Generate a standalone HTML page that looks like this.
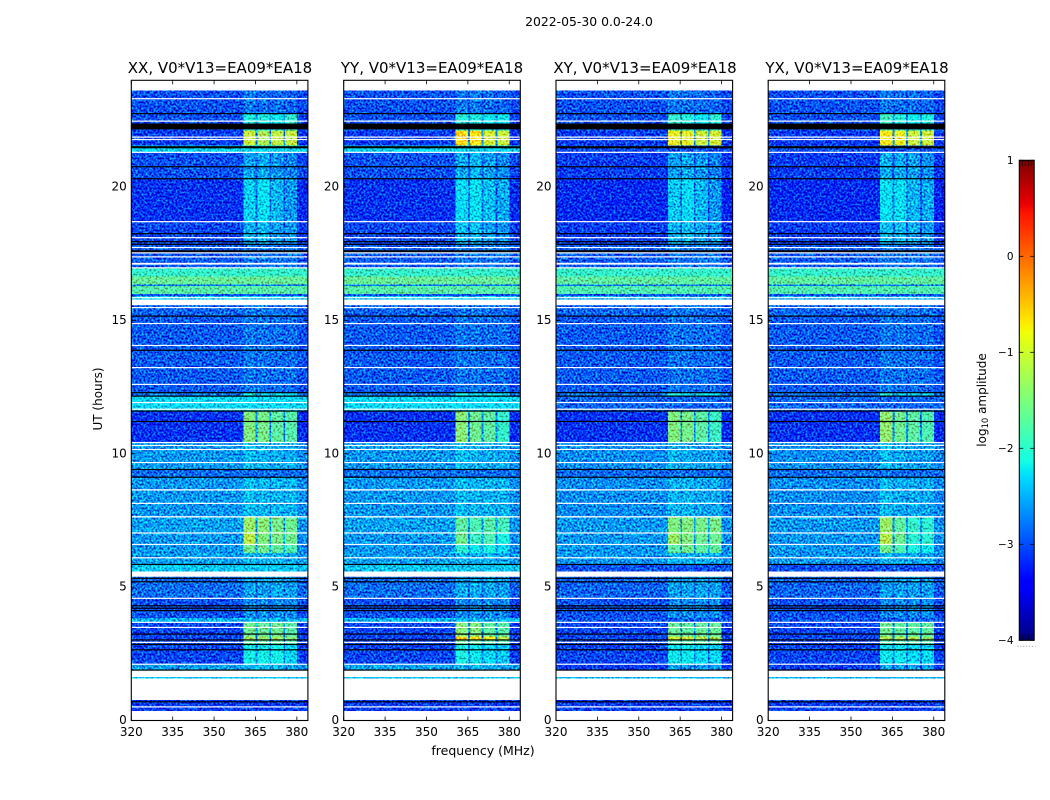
<!DOCTYPE html>
<html lang="en">
<head>
<meta charset="utf-8">
<title>2022-05-30 0.0-24.0</title>
<style>
html,body{margin:0;padding:0;background:#fff;}
svg{display:block;font-family:"DejaVu Sans","Liberation Sans",sans-serif;}
</style>
</head>
<body>
<svg id="figure" xmlns="http://www.w3.org/2000/svg" width="1050" height="800" viewBox="0 0 1050 800">
<defs>
<filter id="grain" filterUnits="userSpaceOnUse" x="120" y="70" width="840" height="660" color-interpolation-filters="sRGB">
<feTurbulence type="fractalNoise" baseFrequency="0.5" numOctaves="2" seed="7" result="n"/>
<feColorMatrix in="n" type="matrix" values="0.3 0 0 0 0.35  2.2 0 0 0 -0.6  1.4 0 0 0 -0.2  0 0 0 0 1" result="m"/>
<feComposite in="SourceGraphic" in2="m" operator="arithmetic" k1="0" k2="1" k3="0.85" k4="-0.425" result="mixed"/>
<feComposite in="mixed" in2="SourceAlpha" operator="in"/>
</filter>
</defs>
<rect x="0" y="0" width="1050" height="800" fill="#fff"/>
<text x="589" y="26" font-size="12.4" text-anchor="middle">2022-05-30 0.0-24.0</text>
<g id="panels"></g>
<text x="220" y="73" font-size="15" text-anchor="middle">XX, V0*V13=EA09*EA18</text>
<text x="432" y="73" font-size="15" text-anchor="middle">YY, V0*V13=EA09*EA18</text>
<text x="645" y="73" font-size="15" text-anchor="middle">XY, V0*V13=EA09*EA18</text>
<text x="857" y="73" font-size="15" text-anchor="middle">YX, V0*V13=EA09*EA18</text>
<text x="0" y="0" font-size="12" text-anchor="middle" transform="translate(102 399) rotate(-90)">UT (hours)</text>
<text x="483" y="755" font-size="12.5" text-anchor="middle">frequency (MHz)</text>
<g id="colorbar"></g>
<text x="0" y="0" font-size="12" text-anchor="middle" transform="translate(986 400) rotate(-90)">log<tspan font-size="8.4" dy="2">10</tspan><tspan dy="-2"> amplitude</tspan></text>
</svg>
<script>
// ---- axis labels ----
const freqTicks = [320, 335, 350, 365, 380];
const hourTicks = [0, 5, 10, 15, 20];
const levelTicks = [1, 0, -1, -2, -3, -4];
const levelMinorTicks = [0.2, 0.4, 0.6, 0.8];

// ---- time bands (UT hours) ----
const bandStart = [23.62,22.76,22.12,21.56,21.30,20.31,18.70,17.82,16.97,16.65,16.35,16.29,15.98,15.92,15.57,15.16,12.30,12.16,11.60,10.42,9.41,9.12,7.64,7.03,6.60,6.28,5.85,5.39,4.58,3.84,3.68,3.14,3.02,2.85,2.11,1.64,0.77];
const bandEnd   = [22.76,22.12,21.56,21.30,20.31,18.70,17.82,16.97,16.65,16.35,16.29,15.98,15.92,15.57,15.16,12.30,12.16,11.60,10.42,9.41,9.12,7.64,7.03,6.60,6.28,5.85,5.58,4.58,3.84,3.68,3.14,3.02,2.85,2.11,1.89,1.57,0.36];

// ---- background log10 amplitude per band ----
const backgroundParallel = [-3.0,-3.0,-3.1,-2.3,-3.0,-3.15,-3.05,-2.95,-1.95,-1.65,-2.8,-1.75,-3.0,-2.4,-2.9,-2.95,-2.8,-2.3,-3.15,-2.65,-2.85,-2.65,-2.6,-2.65,-2.65,-2.6,-2.4,-2.85,-3.0,-2.5,-3.05,-3.05,-3.05,-3.05,-2.6,-2.4,-3.1];
const backgroundCross    = [-3.0,-3.0,-3.1,-3.0,-3.1,-3.2,-3.1,-2.95,-1.95,-1.7,-2.8,-1.8,-3.0,-2.55,-2.9,-2.95,-2.8,-2.9,-3.15,-2.7,-2.85,-2.7,-2.65,-2.65,-2.65,-2.65,-3.0,-2.9,-3.0,-2.95,-3.05,-3.05,-3.05,-3.05,-3.1,-2.5,-3.1];

// ---- interference blocks: log10 amplitude in four sub-bands, per band, per correlation ----
const rfiXX = [[-2.8,-2.85,-2.85,-2.9],[-2.1,-2.1,-2.2,-2.0],[-1.05,-1.25,-1.1,-1.1],null,[-2.6,-2.55,-2.65,-2.75],[-2.35,-2.25,-2.5,-2.65],[-2.5,-2.45,-2.6,-2.65],[-2.8,-2.8,-2.8,-2.8],null,null,null,null,null,null,[-2.8,-2.8,-2.85,-2.85],[-2.8,-2.82,-2.85,-2.85],[-2.1,-2.3,-2.2,-2.3],null,[-1.5,-1.55,-1.7,-1.75],[-2.45,-2.5,-2.55,-2.55],null,[-2.45,-2.5,-2.5,-2.5],[-1.35,-1.45,-1.55,-1.6],[-1.15,-1.5,-1.55,-1.6],[-1.6,-1.6,-1.7,-1.8],[-2.5,-2.5,-2.5,-2.55],null,[-2.6,-2.6,-2.55,-2.6],[-2.7,-2.7,-2.7,-2.7],null,[-1.6,-1.65,-1.6,-1.75],[-1.3,-1.35,-1.3,-1.45],[-1.7,-1.7,-1.7,-1.8],[-2.15,-2.15,-2.15,-2.3],[-2.5,-2.5,-2.5,-2.6],null,null];
const rfiYY = [[-2.8,-2.8,-2.85,-2.9],[-2.05,-2.1,-2.2,-2.2],[-0.6,-0.7,-1.0,-1.05],null,[-2.55,-2.5,-2.6,-2.7],[-2.3,-2.25,-2.45,-2.55],[-2.45,-2.45,-2.6,-2.65],[-2.8,-2.8,-2.8,-2.8],null,null,null,null,null,null,[-2.8,-2.8,-2.85,-2.85],[-2.8,-2.82,-2.85,-2.85],[-2.1,-2.3,-2.2,-2.3],null,[-1.45,-1.6,-1.7,-1.95],[-2.45,-2.5,-2.55,-2.55],null,[-2.45,-2.5,-2.5,-2.5],[-1.7,-1.8,-1.75,-1.85],[-1.6,-1.9,-1.8,-2.1],[-2.0,-2.2,-2.1,-2.3],[-2.5,-2.5,-2.5,-2.55],null,[-2.55,-2.55,-2.55,-2.6],[-2.7,-2.7,-2.7,-2.7],null,[-1.45,-1.5,-1.7,-1.75],[-0.55,-0.7,-0.75,-1.1],[-1.65,-1.7,-1.75,-1.8],[-2.1,-2.2,-2.3,-2.4],[-2.5,-2.5,-2.5,-2.6],null,null];
const rfiXY = [[-2.8,-2.85,-2.85,-2.9],[-1.95,-2.05,-2.2,-2.0],[-0.85,-0.9,-1.05,-1.0],null,[-2.6,-2.55,-2.65,-2.75],[-2.4,-2.3,-2.5,-2.65],[-2.5,-2.45,-2.55,-2.6],[-2.8,-2.8,-2.8,-2.8],null,null,null,null,null,null,[-2.8,-2.8,-2.85,-2.85],[-2.82,-2.82,-2.85,-2.85],[-2.1,-2.3,-2.2,-2.3],null,[-1.5,-1.55,-1.7,-1.9],[-2.5,-2.55,-2.6,-2.6],null,[-2.5,-2.5,-2.55,-2.55],[-1.5,-1.5,-1.55,-1.55],[-1.35,-1.5,-1.6,-1.6],[-1.7,-1.6,-1.7,-1.7],[-2.5,-2.5,-2.5,-2.55],null,[-2.6,-2.6,-2.55,-2.6],[-2.7,-2.7,-2.7,-2.7],null,[-1.65,-1.7,-1.65,-1.65],[-1.0,-1.0,-1.2,-1.3],[-1.75,-1.75,-1.7,-1.7],[-2.2,-2.2,-2.3,-2.3],[-2.6,-2.6,-2.6,-2.6],null,null];
const rfiYX = [[-2.8,-2.85,-2.85,-2.9],[-1.9,-2.05,-2.2,-2.1],[-0.75,-0.85,-1.05,-1.05],null,[-2.55,-2.55,-2.6,-2.7],[-2.25,-2.25,-2.5,-2.55],[-2.45,-2.45,-2.55,-2.65],[-2.8,-2.8,-2.8,-2.8],null,null,null,null,null,null,[-2.8,-2.8,-2.85,-2.85],[-2.8,-2.82,-2.85,-2.85],[-2.05,-2.3,-2.25,-2.3],null,[-1.4,-1.6,-1.7,-1.8],[-2.45,-2.55,-2.6,-2.6],null,[-2.45,-2.55,-2.55,-2.55],[-1.35,-1.7,-1.95,-2.0],[-1.2,-1.6,-2.0,-2.0],[-1.6,-1.8,-2.1,-2.2],[-2.45,-2.55,-2.55,-2.55],null,[-2.6,-2.6,-2.6,-2.6],[-2.75,-2.7,-2.7,-2.7],null,[-1.6,-1.7,-1.7,-1.7],[-1.2,-1.2,-1.2,-1.4],[-1.75,-1.75,-1.75,-1.75],[-2.2,-2.2,-2.3,-2.3],[-2.6,-2.6,-2.6,-2.6],null,null];

// ---- sub-band limits in MHz ----
const blockLow  = [360.6, 365.7, 370.6, 375.7];
const blockHigh = [365.1, 370.0, 375.1, 380.0];

// ---- flagged integrations (UT hours) ----
const whiteLines = [23.31,22.47,21.87,21.78,21.30,18.70,18.10,17.73,17.53,17.38,16.97,15.85,15.48,14.88,14.06,13.23,12.60,11.92,11.67,10.42,10.31,10.16,9.67,8.14,7.03,6.60,6.10,4.58,3.68,3.49,2.93,2.11,0.51];
const blackLines = [22.75,20.76,20.31,18.25,17.95,17.85,15.16,13.88,12.29,12.16,11.60,11.21,9.41,9.12,5.85,5.33,5.20,4.30,4.21,4.12,3.24,3.02,2.85,2.65,1.89,0.70];
const whiteGapStart = [17.16,15.78,8.67,7.66,5.55];
const whiteGapEnd   = [17.09,15.57,8.62,7.61,5.39];
const blackGapStart = [22.38,21.53,17.63];
const blackGapEnd   = [22.16,21.45,17.55];

const panelLeft = [131.3, 343.7, 556.0, 768.2];
const panelWidth = 176.6, plotTop = 80.3, plotBottom = 720.5;
const freqMin = 320, freqMax = 384, hourMin = 0, hourMax = 24;
const NS = 'http://www.w3.org/2000/svg';

function xScale(f, left) { return left + (f - freqMin) / (freqMax - freqMin) * panelWidth; }
function yScale(h) { return plotBottom - (h - hourMin) / (hourMax - hourMin) * (plotBottom - plotTop); }
function lerp(pts, v) {
  for (let i = 1; i < pts.length; i++) {
    if (v <= pts[i][0]) {
      const a = pts[i - 1], b = pts[i];
      return a[1] + (b[1] - a[1]) * (v - a[0]) / (b[0] - a[0]);
    }
  }
  return pts[pts.length - 1][1];
}
function jet(level) {
  const v = Math.max(0, Math.min(1, (level + 4) / 5));
  const r = lerp([[0,0],[0.35,0],[0.66,1],[0.89,1],[1,0.5]], v);
  const g = lerp([[0,0],[0.125,0],[0.375,1],[0.64,1],[0.91,0],[1,0]], v);
  const b = lerp([[0,0.5],[0.11,1],[0.34,1],[0.65,0],[1,0]], v);
  return 'rgb(' + Math.round(r * 255) + ',' + Math.round(g * 255) + ',' + Math.round(b * 255) + ')';
}
function make(parent, tag, attrs, text) {
  const el = document.createElementNS(NS, tag);
  for (const k in attrs) el.setAttribute(k, attrs[k]);
  if (text !== undefined) el.textContent = text;
  parent.appendChild(el);
  return el;
}
function cell(parent, f0, f1, hLow, hHigh, level, left) {
  const x0 = xScale(f0, left), x1 = xScale(f1, left);
  const yTop = yScale(hHigh), yBottom = yScale(hLow);
  const el = make(parent, 'rect', {x: x0, y: yTop, width: x1 - x0, height: yBottom - yTop, fill: jet(level), 'shape-rendering': 'crispEdges'});
  
  
}

function drawPanel(idx, rfi, background) {
  const left = panelLeft[idx];
  const root = document.getElementById('panels');
  const panel = make(root, 'g', {});
  
  
  const heat = make(panel, 'g', {filter: 'url(#grain)'});
  
  

  bandStart.forEach(function (hHigh, b) {
    const hLow = bandEnd[b], bg = background[b], blocks = rfi[b];
    if (!blocks) {
      cell(heat, freqMin, freqMax, hLow, hHigh, bg, left);
      return;
    }
    cell(heat, freqMin, blockLow[0], hLow, hHigh, bg, left);
    blocks.forEach(function (level, k) {
      cell(heat, blockLow[k], blockHigh[k], hLow, hHigh, level, left);
      const gapEnd = k < blocks.length - 1 ? blockLow[k + 1] : freqMax;
      const gapLevel = k < blocks.length - 1 ? Math.max(bg, Math.min(level, -2.2) - 0.5) : bg - 0.05;
      cell(heat, blockHigh[k], gapEnd, hLow, hHigh, gapLevel, left);
    });
  });

  const x0 = xScale(freqMin, left), x1 = xScale(freqMax, left);
  whiteGapStart.forEach(function (hHigh, i) {
    const el = make(panel, 'rect', {x: x0, y: yScale(hHigh), width: x1 - x0, height: yScale(whiteGapEnd[i]) - yScale(hHigh), fill: '#fff'});
    
    
  });
  blackGapStart.forEach(function (hHigh, i) {
    const el = make(panel, 'rect', {x: x0, y: yScale(hHigh), width: x1 - x0, height: yScale(blackGapEnd[i]) - yScale(hHigh), fill: '#000'});
    
    
  });
  blackLines.forEach(function (h) {
    const el = make(panel, 'rect', {x: x0, y: yScale(h) - 0.6, width: x1 - x0, height: 1.2, fill: '#000'});
    
    
  });
  whiteLines.forEach(function (h) {
    const el = make(panel, 'rect', {x: x0, y: yScale(h) - 0.6, width: x1 - x0, height: 1.2, fill: '#fff'});
    
    
  });

  freqTicks.forEach(function (f) {
    const x = xScale(f, left);
    const t1 = make(panel, 'line', {x1: x, x2: x, y1: plotBottom, y2: plotBottom - 4, stroke: '#000', 'stroke-width': 0.8});
    
    
    const t2 = make(panel, 'line', {x1: x, x2: x, y1: plotTop, y2: plotTop + 4, stroke: '#000', 'stroke-width': 0.8});
    
    
    const lab = make(panel, 'text', {x: x, y: 736, 'font-size': 12, 'text-anchor': 'middle'}, String(f));
    
    
  });
  hourTicks.forEach(function (h) {
    const y = yScale(h);
    const t1 = make(panel, 'line', {x1: x0, x2: x0 + 4, y1: y, y2: y, stroke: '#000', 'stroke-width': 0.8});
    
    
    const t2 = make(panel, 'line', {x1: x1, x2: x1 - 4, y1: y, y2: y, stroke: '#000', 'stroke-width': 0.8});
    
    
    const lab = make(panel, 'text', {x: x0 - 4.5, y: y + 3.5, 'font-size': 12, 'text-anchor': 'end'}, String(h));
    
    
  });
  const frame = make(panel, 'rect', {x: x0, y: plotTop, width: x1 - x0, height: plotBottom - plotTop, fill: 'none', stroke: '#000', 'stroke-width': 1.1});
  
  
}

drawPanel(0, rfiXX, backgroundParallel);
drawPanel(1, rfiYY, backgroundParallel);
drawPanel(2, rfiXY, backgroundCross);
drawPanel(3, rfiYX, backgroundCross);

// ---- colorbar ----
const cbLeft = 1019.3, cbRight = 1034.2, cbTop = 160.3, cbBottom = 640.3, cbMin = -4, cbMax = 1;
function cbY(level) { return cbBottom - (level - cbMin) / (cbMax - cbMin) * (cbBottom - cbTop); }
(function () {
  const root = document.getElementById('colorbar');
  for (let p = Math.round(cbTop); p < Math.round(cbBottom); p++) {
    const level = cbMax - (p + 0.5 - cbTop) / (cbBottom - cbTop) * (cbMax - cbMin);
    const s = make(root, 'rect', {x: cbLeft, y: p, width: cbRight - cbLeft, height: 1.2, fill: jet(level), 'shape-rendering': 'crispEdges'});
    
    
  }
  levelTicks.forEach(function (v) {
    const y = cbY(v);
    const t1 = make(root, 'line', {x1: cbLeft, x2: cbLeft + 4, y1: y, y2: y, stroke: '#000', 'stroke-width': 0.8});
    
    
    const t2 = make(root, 'line', {x1: cbRight, x2: cbRight - 4, y1: y, y2: y, stroke: '#000', 'stroke-width': 0.8});
    
    
    const lab = make(root, 'text', {x: 1013.5, y: y + 3.8, 'font-size': 10.5, 'text-anchor': 'end', fill: '#000'}, v < 0 ? '\u2212' + Math.abs(v) : String(v));
    
    
  });
  levelMinorTicks.forEach(function (frac) {
    const x = cbLeft + frac * (cbRight - cbLeft);
    const a = make(root, 'line', {x1: x, x2: x, y1: cbTop, y2: cbTop + 6, stroke: '#000', 'stroke-width': 0.7});
    
    
    const b = make(root, 'line', {x1: x, x2: x, y1: cbBottom, y2: cbBottom - 6, stroke: '#000', 'stroke-width': 0.7});
    
    
  });
  const frame = make(root, 'rect', {x: cbLeft, y: cbTop, width: cbRight - cbLeft, height: cbBottom - cbTop, fill: 'none', stroke: '#000', 'stroke-width': 1.1});
  
  
  const dots = make(root, 'line', {x1: 1017.5, x2: 1035.5, y1: 646.4, y2: 646.4, stroke: '#999', 'stroke-width': 1, 'stroke-dasharray': '1 1.9'});
  
  
})();
</script>
</body>
</html>
